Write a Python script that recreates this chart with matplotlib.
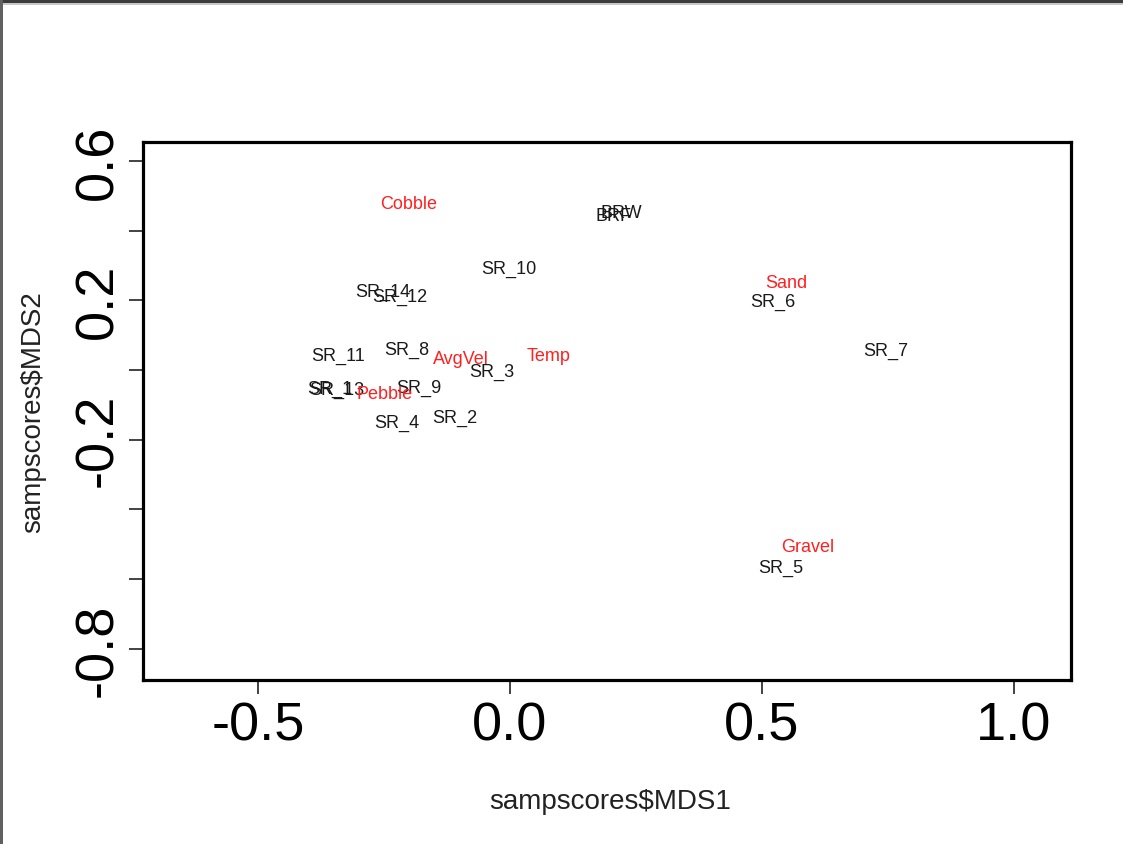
import matplotlib
matplotlib.use("Agg")
import matplotlib.pyplot as plt
from matplotlib.patches import Rectangle

plt.rcParams['font.family'] = ['Liberation Sans', 'DejaVu Sans']

# site scores (NMDS axes 1 and 2)
site_names = ["SR_1", "SR_2", "SR_3", "SR_4", "SR_5", "SR_6", "SR_7",
              "SR_8", "SR_9", "SR_10", "SR_11", "SR_12", "SR_13", "SR_14",
              "BRF", "BRW"]
site_mds1 = [-0.357, -0.109, -0.036, -0.224, 0.538, 0.522, 0.746,
             -0.204, -0.181, -0.002, -0.341, -0.218, -0.343, -0.252,
             0.206, 0.220]
site_mds2 = [-0.052, -0.137, -0.003, -0.149, -0.566, 0.197, 0.057,
             0.060, -0.049, 0.291, 0.043, 0.211, -0.055, 0.225,
             0.443, 0.453]

# environmental vectors
env_names = ["Cobble", "Sand", "AvgVel", "Temp", "Pebble", "Gravel"]
env_mds1 = [-0.202, 0.548, -0.097, 0.077, -0.248, 0.591]
env_mds2 = [0.477, 0.251, 0.034, 0.043, -0.066, -0.506]

fig = plt.figure(figsize=(11.23, 8.45), dpi=100)
ax = fig.add_axes([143 / 1123, 1 - 681 / 845, 928 / 1123, 538 / 845])

# empty scatter so axes are set by the data, then write the labels
ax.scatter(site_mds1 + env_mds1, site_mds2 + env_mds2, s=0)
for name, x, y in zip(site_names, site_mds1, site_mds2):
    ax.text(x, y, name, ha='center', va='center', fontsize=13, color='#1a1a1a')
for name, x, y in zip(env_names, env_mds1, env_mds2):
    ax.text(x, y, name, ha='center', va='center', fontsize=13, color='#ff2020')

ax.set_xlim(-0.728, 1.113)
ax.set_ylim(-0.889, 0.654)

ax.set_xticks([-0.5, 0.0, 0.5, 1.0])
ax.set_xticklabels(["-0.5", "0.0", "0.5", "1.0"])
yt = [0.6, 0.4, 0.2, 0.0, -0.2, -0.4, -0.6, -0.8]
ax.set_yticks(yt)
ax.set_yticklabels(["0.6", "", "0.2", "", "-0.2", "", "", "-0.8"],
                   rotation=90, va='center')

ax.tick_params(axis='both', direction='out', length=10, width=1.2,
               labelsize=39, color='#222222')
ax.tick_params(axis='x', pad=5)
ax.tick_params(axis='y', pad=4)
for sp in ax.spines.values():
    sp.set_linewidth(2.3)
    sp.set_color('black')

fig.text(610 / 1123, 1 - 802 / 845, "sampscores$MDS1", ha='center', va='center',
         fontsize=20, color='#222222')
fig.text(33 / 1123, 1 - 412 / 845, "sampscores$MDS2", ha='center', va='center',
         fontsize=20, color='#222222', rotation=90)

# window frame around the plot
fig.patches.append(Rectangle((0, 1 - 4 / 845), 1, 4 / 845, transform=fig.transFigure,
                             facecolor='#3c3c3c', edgecolor='none'))
fig.patches.append(Rectangle((0, 1 - 6 / 845), 1, 2 / 845, transform=fig.transFigure,
                             facecolor='#c8c8c8', edgecolor='none'))
fig.patches.append(Rectangle((0, 0), 3 / 1123, 1, transform=fig.transFigure,
                             facecolor='#606060', edgecolor='none'))

fig.savefig("out.png", dpi=100)
